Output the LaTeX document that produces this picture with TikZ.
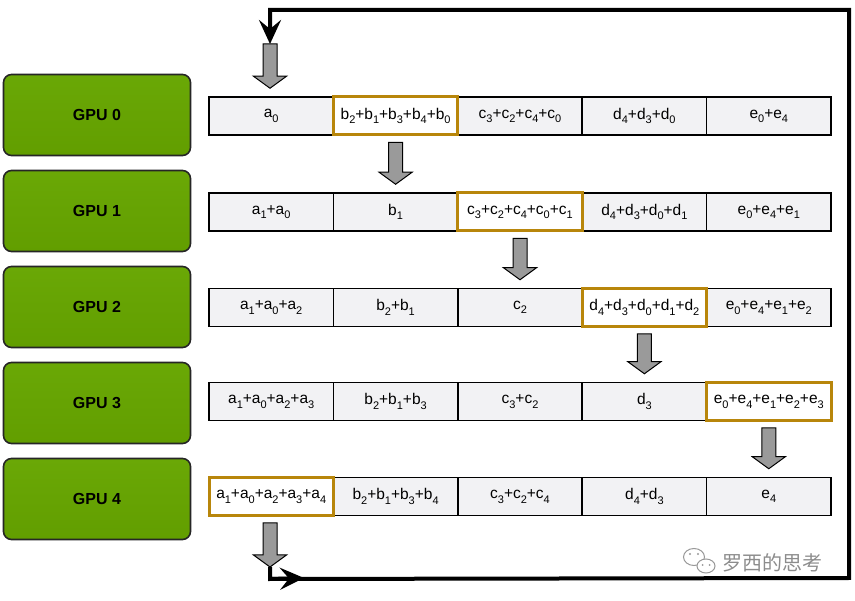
\documentclass[tikz,border=0pt]{standalone}
\usepackage{fontspec}
\setmainfont{Liberation Sans}
\newfontfamily\cjk{Noto Sans CJK SC}
\usetikzlibrary{arrows.meta,calc}
\newcommand\xs[1]{\raisebox{-0.55ex}{\fontsize{11}{12}\selectfont #1}}
\definecolor{gpuTop}{HTML}{6AA806}
\definecolor{gpuBot}{HTML}{629E00}
\definecolor{cellgray}{HTML}{F2F2F4}
\definecolor{hlgold}{HTML}{B8860B}
\definecolor{arrgray}{HTML}{9A9A9A}
\newcommand\blockarrow[2]{\filldraw[garrow] ($(#1)+(-7,0)$) -- ($(#1)+(7,0)$) -- ($(#2)+(7,-12)$) -- ($(#2)+(16.5,-12)$) -- (#2) -- ($(#2)+(-16.5,-12)$) -- ($(#2)+(-7,-12)$) -- cycle;}
\begin{document}
\begin{tikzpicture}[x=1pt,y=-1pt,
  gpu/.style={draw=black!85, line width=1.6pt, rounded corners=8pt, top color=gpuTop, bottom color=gpuBot, minimum width=187pt, minimum height=81pt, font=\fontsize{16}{19}\selectfont\bfseries},
  cell/.style={draw=black, line width=1.5pt, fill=cellgray, minimum width=124.4pt, minimum height=38pt, inner sep=0pt, font=\fontsize{15.5}{18}\selectfont},
  hl/.style={cell, draw=hlgold, line width=3pt, fill=white},
  garrow/.style={fill=arrgray, draw=black, line width=1pt, line join=miter},
  loopline/.style={draw=black, line width=4pt, line join=miter},
  tip/.style={-{Stealth[length=24pt,width=22pt,inset=9pt]}}]
\useasboundingbox (0,0) rectangle (855,601);
% GPU boxes
\node[gpu] (g0) at (97,115) {GPU 0};
\node[gpu] (g1) at (97,211) {GPU 1};
\node[gpu] (g2) at (97,307) {GPU 2};
\node[gpu] (g3) at (97,403) {GPU 3};
\node[gpu] (g4) at (97,499) {GPU 4};
% row 0
\node[cell] (c00) at (271.2,116) {a\xs{0}};
\node[cell] (c02) at (520,116) {c\xs{3}+c\xs{2}+c\xs{4}+c\xs{0}};
\node[cell] (c03) at (644.4,116) {d\xs{4}+d\xs{3}+d\xs{0}};
\node[cell] (c04) at (768.8,116) {e\xs{0}+e\xs{4}};
\node[hl] (c01) at (395.6,116) {b\xs{2}+b\xs{1}+b\xs{3}+b\xs{4}+b\xs{0}};
% row 1
\node[cell] (c10) at (271.2,212) {a\xs{1}+a\xs{0}};
\node[cell] (c11) at (395.6,212) {b\xs{1}};
\node[cell] (c13) at (644.4,212) {d\xs{4}+d\xs{3}+d\xs{0}+d\xs{1}};
\node[cell] (c14) at (768.8,212) {e\xs{0}+e\xs{4}+e\xs{1}};
\node[hl] (c12) at (520,212) {c\xs{3}+c\xs{2}+c\xs{4}+c\xs{0}+c\xs{1}};
% row 2
\node[cell] (c20) at (271.2,307.5) {a\xs{1}+a\xs{0}+a\xs{2}};
\node[cell] (c21) at (395.6,307.5) {b\xs{2}+b\xs{1}};
\node[cell] (c22) at (520,307.5) {c\xs{2}};
\node[cell] (c24) at (768.8,307.5) {e\xs{0}+e\xs{4}+e\xs{1}+e\xs{2}};
\node[hl] (c23) at (644.4,307.5) {d\xs{4}+d\xs{3}+d\xs{0}+d\xs{1}+d\xs{2}};
% row 3
\node[cell] (c30) at (271.2,401.5) {a\xs{1}+a\xs{0}+a\xs{2}+a\xs{3}};
\node[cell] (c31) at (395.6,401.5) {b\xs{2}+b\xs{1}+b\xs{3}};
\node[cell] (c32) at (520,401.5) {c\xs{3}+c\xs{2}};
\node[cell] (c33) at (644.4,401.5) {d\xs{3}};
\node[hl] (c34) at (768.8,401.5) {e\xs{0}+e\xs{4}+e\xs{1}+e\xs{2}+e\xs{3}};
% row 4
\node[cell] (c41) at (395.6,496.5) {b\xs{2}+b\xs{1}+b\xs{3}+b\xs{4}};
\node[cell] (c42) at (520,496.5) {c\xs{3}+c\xs{2}+c\xs{4}};
\node[cell] (c43) at (644.4,496.5) {d\xs{4}+d\xs{3}};
\node[cell] (c44) at (768.8,496.5) {e\xs{4}};
\node[hl] (c40) at (271.2,496.5) {a\xs{1}+a\xs{0}+a\xs{2}+a\xs{3}+a\xs{4}};
% gray block arrows
\coordinate (in0) at (270,44);
\coordinate (in1) at ($(c00.north)+(-1.2,-8)$);
\blockarrow{in0}{in1}
\foreach \a/\b in {01/11,12/22,23/33,34/44}{
  \coordinate (s\a) at ($(c\a.south)+(0,6)$);
  \coordinate (e\b) at ($(c\b.north)+(0,-8)$);
  \blockarrow{s\a}{e\b}
}
\coordinate (s40) at ($(c40.south)+(-1.2,6)$);
\coordinate (out0) at ($(c40.south)+(-1.2,50)$);
\blockarrow{s40}{out0}
% black loop
\coordinate (bturn) at ($(out0)+(0,12)$);
\coordinate (bright) at (849,578);
\coordinate (tright) at (849,10);
\coordinate (tturn) at (270,10);
\coordinate (bmark) at (304,578);
\draw[loopline] (out0) -- (bturn) -- (bright) -- (tright) -- (tturn) -- ($(in0)+(0,-8)$);
\draw[loopline, tip] ($(in0)+(0,-20)$) -- (in0);
\draw[loopline, tip] (bturn) -- (bmark);
% watermark
\node[font=\cjk\fontsize{20}{22}\selectfont, text=black!45, anchor=west, inner sep=0pt] (wm) at (722,563) {罗西的思考};
\begin{scope}[draw=black!40, line width=1pt]
  \draw (694,557) ellipse (10.5 and 8.5);
  \draw[fill=white] (706,566) ellipse (9 and 7);
  \fill[black!40] (690,554) circle (1.2) (698,554) circle (1.2) (702.5,565) circle (1) (709.5,565) circle (1);
\end{scope}
\end{tikzpicture}
\end{document}
